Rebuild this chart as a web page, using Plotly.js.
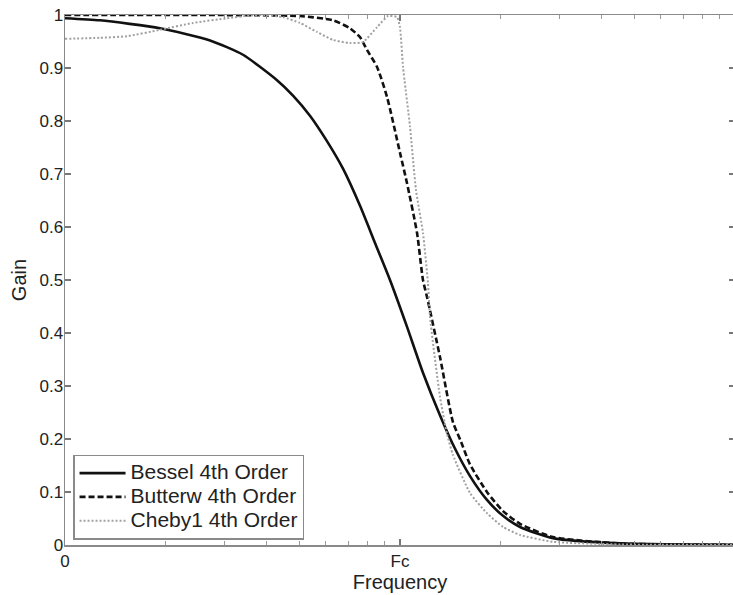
<!DOCTYPE html>
<html>
<head>
<meta charset="utf-8">
<script src="https://cdn.plot.ly/plotly-3.0.1.min.js"></script>
<style>html,body{margin:0;padding:0;overflow:hidden;background:#fff;}#chart{width:740px;height:595px;}</style>
</head>
<body>
<div id="chart"></div>
<script>
// Frequency as ratio to Fc (log axis), gain 0..1
const besselF = [0.1, 0.1272, 0.1921, 0.2710, 0.3399, 0.4294, 0.4793, 0.5386, 0.6053, 0.6759, 0.7598, 0.8421, 0.9335, 1.049, 1.171, 1.316, 1.459, 1.618, 1.818, 2.030, 2.282, 2.862, 4.536, 10];
const besselG = [0.994, 0.990, 0.975, 0.952, 0.925, 0.877, 0.848, 0.810, 0.762, 0.710, 0.640, 0.570, 0.500, 0.412, 0.325, 0.245, 0.182, 0.130, 0.085, 0.055, 0.034, 0.013, 0.003, 0.0003];

const butterF = [0.1, 0.253, 0.382, 0.503, 0.631, 0.709, 0.760, 0.797, 0.854, 0.915, 1.0, 1.049, 1.124, 1.171, 1.204, 1.316, 1.439, 1.521, 1.618, 1.818, 2.03, 2.282, 2.862, 4.536, 10];
const butterG = [1.0, 1.0, 0.9995, 0.998, 0.990, 0.975, 0.958, 0.934, 0.902, 0.845, 0.740, 0.683, 0.589, 0.500, 0.468, 0.355, 0.232, 0.195, 0.152, 0.100, 0.064, 0.040, 0.015, 0.003, 0.0001];

const chebyF = [0.1, 0.1272, 0.1531, 0.1921, 0.2410, 0.3046, 0.3566, 0.3954, 0.4473, 0.503, 0.5654, 0.631, 0.709, 0.7756, 0.854, 0.921, 0.980, 1.0, 1.021, 1.071, 1.116, 1.171, 1.212, 1.229, 1.316, 1.381, 1.439, 1.618, 1.818, 2.03, 2.282, 2.862, 4.536, 10];
const chebyG = [0.955, 0.957, 0.960, 0.972, 0.985, 0.994, 0.999, 1.0, 0.996, 0.985, 0.968, 0.953, 0.947, 0.949, 0.977, 0.998, 0.996, 0.977, 0.902, 0.790, 0.670, 0.589, 0.494, 0.430, 0.280, 0.210, 0.170, 0.098, 0.060, 0.034, 0.019, 0.006, 0.001, 0.0001];

const seriesNames = ["Bessel 4th Order", "Butterw 4th Order", "Cheby1 4th Order"];

const xTickVals = [0.1, 1];
const xTickText = ["0", "Fc"];
const xMinorVals = [0.2, 0.3, 0.4, 0.5, 0.6, 0.7, 0.8, 0.9, 2, 3, 4, 5, 6, 7, 8, 9];
const yTickVals = [0, 0.1, 0.2, 0.3, 0.4, 0.5, 0.6, 0.7, 0.8, 0.9, 1];
const yTickText = ["0", "0.1", "0.2", "0.3", "0.4", "0.5", "0.6", "0.7", "0.8", "0.9", "1"];

const big = s => '<span style="font-size:21px">' + s + '</span>';

const traces = [
  {x: besselF, y: besselG, name: big(seriesNames[0]), mode: 'lines',
   line: {color: '#111', width: 2.6, shape: 'spline', smoothing: 0.6}},
  {x: butterF, y: butterG, name: big(seriesNames[1]), mode: 'lines',
   line: {color: '#111', width: 2.6, dash: '6px,3px', shape: 'spline', smoothing: 0.6}},
  {x: chebyF, y: chebyG, name: big(seriesNames[2]), mode: 'lines', xaxis: 'x2',
   line: {color: '#a0a0a0', width: 2, dash: '2px,2px', shape: 'spline', smoothing: 0.5}}
];

const axisColor = '#8a8a8a';
const layout = {
  width: 740, height: 595,
  margin: {l: 65, r: 5, t: 15, b: 50},
  paper_bgcolor: '#fff', plot_bgcolor: '#fff',
  font: {family: 'Liberation Sans, Arial, sans-serif', color: '#222', size: 17},
  showlegend: true,
  legend: {
    x: 0.012, y: 0.01, xanchor: 'left', yanchor: 'bottom',
    bgcolor: '#fff', bordercolor: axisColor, borderwidth: 1.5,
    font: {size: 16, color: '#222'}, tracegroupgap: 0, itemwidth: 46
  },
  xaxis: {
    type: 'log', range: [-1, 1],
    tickmode: 'array', tickvals: xTickVals, ticktext: xTickText,
    ticks: 'inside', ticklen: 6, tickcolor: '#777', tickwidth: 1.2,
    showline: true, linecolor: axisColor, linewidth: 1.5, mirror: 'ticks',
    showgrid: false, zeroline: false,
    tickfont: {size: 17, color: '#222'},
    title: {text: 'Frequency', font: {size: 20, color: '#222'}, standoff: 2}
  },
  xaxis2: {
    type: 'log', range: [-1, 1], overlaying: 'x', anchor: 'y', side: 'bottom',
    tickmode: 'array', tickvals: xMinorVals, showticklabels: false,
    ticks: 'inside', ticklen: 4, tickcolor: '#999', tickwidth: 1.1,
    showline: true, linecolor: axisColor, linewidth: 1.5, mirror: 'ticks',
    showgrid: false, zeroline: false
  },
  yaxis: {
    range: [0, 1],
    tickmode: 'array', tickvals: yTickVals, ticktext: yTickText,
    ticks: 'inside', ticklen: 6, tickcolor: '#777', tickwidth: 1.2,
    showline: true, linecolor: axisColor, linewidth: 1.5, mirror: 'ticks',
    showgrid: false, zeroline: false, ticklabelstandoff: -3,
    tickfont: {size: 17, color: '#222'},
    title: {text: 'Gain', font: {size: 20, color: '#222'}, standoff: 7}
  }
};

Plotly.newPlot('chart', traces, layout, {staticPlot: true, displayModeBar: false});
</script>
</body>
</html>
